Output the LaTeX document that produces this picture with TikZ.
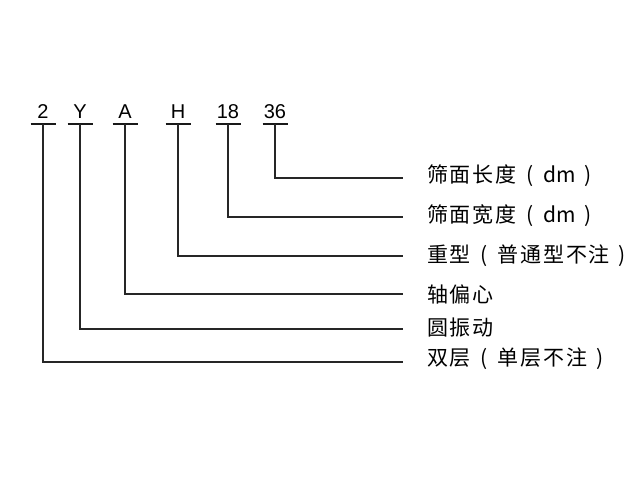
\documentclass[tikz,border=0pt]{standalone}
\usepackage{fontspec}
\setmainfont{Liberation Sans}
\newfontfamily\cjk[LetterSpace=8]{Noto Sans CJK SC}
\newfontfamily\cjkp{Noto Sans CJK SC}
\newcommand{\lp}{{\cjkp\hspace{10pt}(\hspace{10pt}}}
\newcommand{\rp}{{\cjkp\hspace{9pt})}}
\begin{document}
\begin{tikzpicture}[x=1pt,y=-1pt,
  code/.style={font=\fontsize{20}{20}\selectfont, inner sep=0pt, anchor=base},
  desc/.style={font=\cjk\fontsize{21}{22}\selectfont, inner sep=0pt, anchor=west, text height=0.88em, text depth=0.12em},
  bar/.style={line width=1.7pt, draw=black!90},
  conn/.style={line width=1.6pt, draw=black!85}]
\useasboundingbox (0,0) rectangle (640,480);
% code letters
\node[code] (c1) at (43,118) {2};
\node[code] (c2) at (80,118) {Y};
\node[code] (c3) at (125,118) {A};
\node[code] (c4) at (178,118) {H};
\node[code] (c5) at (228,118) {18};
\node[code] (c6) at (275,118) {36};
% bar centres
\coordinate (b1) at (43,124);
\coordinate (b2) at (80,124);
\coordinate (b3) at (125,124);
\coordinate (b4) at (178,124);
\coordinate (b5) at (228,124);
\coordinate (b6) at (275,124);
\foreach \i in {1,...,6}{
  \draw[bar] ([xshift=-12.5pt]b\i) -- ([xshift=12.5pt]b\i);
}
% descriptions
\node[desc] (d6) at (427,179) {筛面长度\lp{\cjkp dm}\rp};
\node[desc] (d5) at (427,219) {筛面宽度\lp{\cjkp dm}\rp};
\node[desc] (d4) at (427,259) {重型\lp 普通型不注\rp};
\node[desc] (d3) at (427,299) {轴偏心};
\node[desc] (d2) at (427,332) {圆振动};
\node[desc] (d1) at (427,362) {双层\lp 单层不注\rp};
% line ends
\coordinate (e6) at (403,178);
\coordinate (e5) at (403,217);
\coordinate (e4) at (403,256);
\coordinate (e3) at (403,294);
\coordinate (e2) at (403,329);
\coordinate (e1) at (403,362);
\foreach \i in {1,...,6}{
  \draw[conn] (b\i) |- (e\i);
}
\end{tikzpicture}
\end{document}
